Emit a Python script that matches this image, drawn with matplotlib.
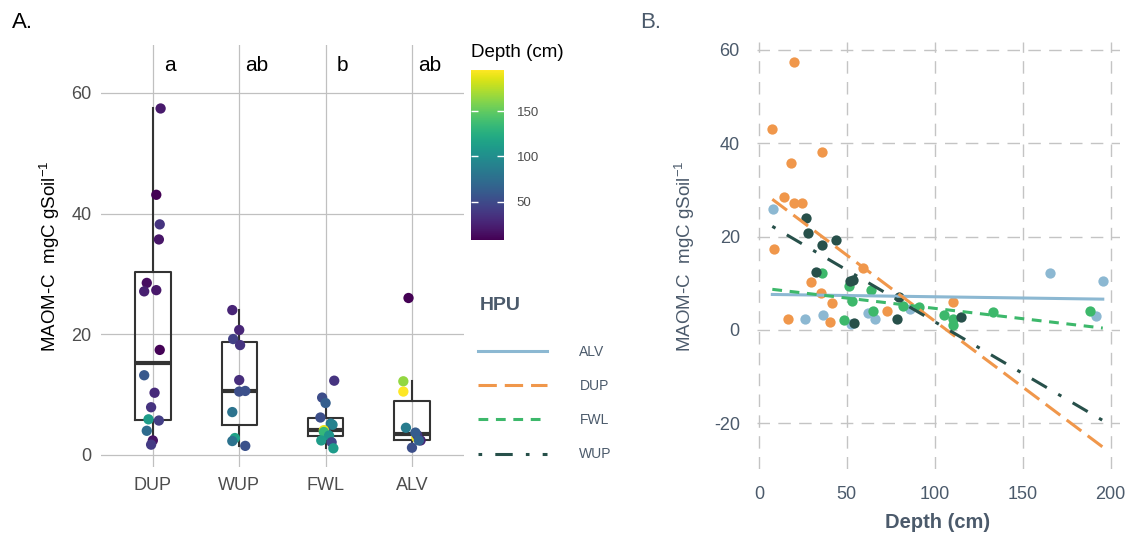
import numpy as np
import matplotlib.pyplot as plt
from matplotlib.lines import Line2D

plt.rcParams['font.family'] = ['Liberation Sans', 'DejaVu Sans']
plt.rcParams['axes.unicode_minus'] = False
plt.rcParams['mathtext.default'] = 'regular'

# Data: depth (cm), MAOM-C (mgC gSoil-1), jitter used in panel A
dup_depth = [20.2, 7.6, 36.1, 18.5, 14.2, 19.7, 24.4, 8.5, 59.0, 29.7, 35.4, 110.5, 41.6, 72.6, 16.8, 40.5]
dup_maom = [57.4, 43.1, 38.2, 35.7, 28.5, 27.3, 27.1, 17.4, 13.2, 10.3, 7.9, 5.9, 5.7, 4.0, 2.4, 1.7]
dup_jit = [0.09, 0.04, 0.08, 0.07, -0.07, 0.04, -0.10, 0.08, -0.10, 0.02, -0.02, -0.05, 0.07, -0.07, 0.0, -0.02]

wup_depth = [26.9, 28.0, 43.9, 35.8, 32.2, 51.8, 53.5, 79.5, 115.0, 78.3, 54.3]
wup_maom = [24.0, 20.7, 19.2, 18.2, 12.4, 10.5, 10.6, 7.1, 2.8, 2.3, 1.5]
wup_jit = [-0.08, 0.0, -0.07, 0.01, 0.0, 0.0, 0.07, -0.08, -0.05, -0.08, 0.07]

fwl_depth = [35.8, 51.5, 63.6, 52.8, 82.0, 90.9, 65.0, 188.5, 133.0, 105.0, 110.5, 48.4, 110.2]
fwl_maom = [12.3, 9.5, 8.6, 6.2, 5.2, 5.0, 4.0, 4.1, 3.8, 3.2, 2.4, 2.1, 1.1]
fwl_jit = [0.10, -0.04, 0.0, -0.06, 0.06, 0.08, 0.0, -0.02, -0.02, 0.04, -0.05, 0.07, 0.09]

alv_depth = [191.9, 7.9, 26.3, 36.5, 52.4, 61.9, 65.8, 85.9, 165.4, 195.6]
alv_maom = [2.9, 26.0, 2.4, 3.3, 1.2, 3.7, 2.4, 4.5, 12.2, 10.5]
alv_jit = [0.05, -0.04, 0.10, 0.06, 0.0, 0.04, 0.08, -0.07, -0.10, -0.10]

# panel A order and significance letters
groups_a = ['DUP', 'WUP', 'FWL', 'ALV']
letters = ['a', 'ab', 'b', 'ab']

# panel B: linear fit value at shallowest and deepest depth
hpu_b = ['ALV', 'DUP', 'FWL', 'WUP']
fit_start = [7.6, 28.0, 8.7, 22.2]
fit_end = [6.6, -25.1, 0.4, -19.4]

depth = {'DUP': dup_depth, 'WUP': wup_depth, 'FWL': fwl_depth, 'ALV': alv_depth}
maom = {'DUP': dup_maom, 'WUP': wup_maom, 'FWL': fwl_maom, 'ALV': alv_maom}
jit = {'DUP': dup_jit, 'WUP': wup_jit, 'FWL': fwl_jit, 'ALV': alv_jit}

hpu_colors = {'ALV': '#8cb8d2', 'DUP': '#f0974b', 'FWL': '#3db86b', 'WUP': '#27504a'}
hpu_styles = {'ALV': '-', 'DUP': (0, (6, 2.6)), 'FWL': (0, (3.2, 2.5)),
              'WUP': (0, (1.2, 4.3, 5.7, 4.3))}

slate = '#4b5a6b'
all_depth = np.concatenate([depth[g] for g in groups_a])
dmin, dmax = all_depth.min(), all_depth.max()

W, H = 1128, 535
def rect(l, t, r, b):
    return [l / W, 1 - b / H, (r - l) / W, (b - t) / H]

fig = plt.figure(figsize=(W / 100, H / 100), dpi=100)
axA = fig.add_axes(rect(101, 44.5, 463.8, 467))
axB = fig.add_axes(rect(756.5, 42, 1120, 469))
cax = fig.add_axes(rect(471, 70, 504, 240))

# ---- Panel A
pos = np.arange(1, len(groups_a) + 1)
axA.boxplot([maom[g] for g in groups_a], positions=pos, widths=0.41,
            showfliers=False, showcaps=False,
            boxprops=dict(color='#333333', lw=1.5),
            whiskerprops=dict(color='#333333', lw=1.5),
            medianprops=dict(color='#333333', lw=3))
for i, g in enumerate(groups_a):
    sc = axA.scatter(pos[i] + np.array(jit[g]), maom[g], c=depth[g], cmap='viridis',
                     vmin=dmin, vmax=dmax, s=55, linewidths=0, zorder=3)
    axA.text(pos[i] + 0.2, 64.6, letters[i], fontsize=15, ha='center', va='center')

axA.set_xlim(0.4, 4.6)
axA.set_ylim(-2.0, 68.0)
axA.set_xticks(pos)
axA.set_xticklabels(groups_a)
axA.set_yticks([0, 20, 40, 60])
axA.grid(True, color='#c0c0c0', lw=0.9)
axA.set_axisbelow(True)
axA.tick_params(length=0, labelsize=13, labelcolor='#4d4d4d', pad=7)
for s in axA.spines.values():
    s.set_visible(False)

cb = fig.colorbar(sc, cax=cax, ticks=[50, 100, 150])
cb.outline.set_visible(False)
cax.tick_params(length=0, labelsize=9.5, labelcolor='#4d4d4d', pad=9)
cax.hlines([50, 100, 150], 0, 0.2, colors='white', lw=1)
cax.hlines([50, 100, 150], 0.8, 1, colors='white', lw=1)
fig.text(471 / W, 1 - 52 / H, 'Depth (cm)', fontsize=13.5, va='center')

# ---- Panel B
for g in hpu_b:
    axB.scatter(depth[g], maom[g], color=hpu_colors[g], s=55, linewidths=0, zorder=2)
for g, y0, y1 in zip(hpu_b, fit_start, fit_end):
    axB.plot([dmin, dmax], [y0, y1], color=hpu_colors[g], lw=2.2, ls=hpu_styles[g], zorder=3)

axB.set_xlim(-1.4, 205.4)
axB.set_ylim(-29.8, 61.7)
axB.set_xticks([0, 50, 100, 150, 200])
axB.set_yticks([-20, 0, 20, 40, 60])
axB.grid(True, color='#c4c4c4', lw=1.0, linestyle=(0, (9, 6)))
axB.set_axisbelow(True)
axB.tick_params(axis='both', length=0, labelsize=13, labelcolor=slate, pad=12)
for s in axB.spines.values():
    s.set_visible(False)

# HPU legend
fig.text(480 / W, 1 - 305 / H, 'HPU', fontsize=14, weight='bold', color=slate, va='center')
handles = [Line2D([], [], color=hpu_colors[g], lw=2.2, ls=hpu_styles[g]) for g in hpu_b]
fig.legend(handles, hpu_b, loc='upper left', bbox_to_anchor=(478 / W, 1 - 345 / H),
           frameon=False, borderpad=0, borderaxespad=0, fontsize=10,
           handlelength=5.0, handletextpad=2.3, labelspacing=1.45, labelcolor=slate)

# ---- labels
fig.text(12 / W, 1 - 22 / H, 'A.', fontsize=16, va='center')
fig.text(640 / W, 1 - 22 / H, 'B.', fontsize=16, va='center', color=slate)
fig.text(50 / W, 1 - 256 / H, 'MAOM-C  mgC gSoil$^{-1}$', fontsize=13.5,
         rotation=90, ha='center', va='center')
fig.text(685 / W, 1 - 256 / H, 'MAOM-C  mgC gSoil$^{-1}$', fontsize=13.5,
         rotation=90, ha='center', va='center', color=slate)
fig.text(938 / W, 1 - 522 / H, 'Depth (cm)', fontsize=14.5, weight='bold',
         ha='center', va='center', color=slate)

plt.savefig('out.png', dpi=100)
